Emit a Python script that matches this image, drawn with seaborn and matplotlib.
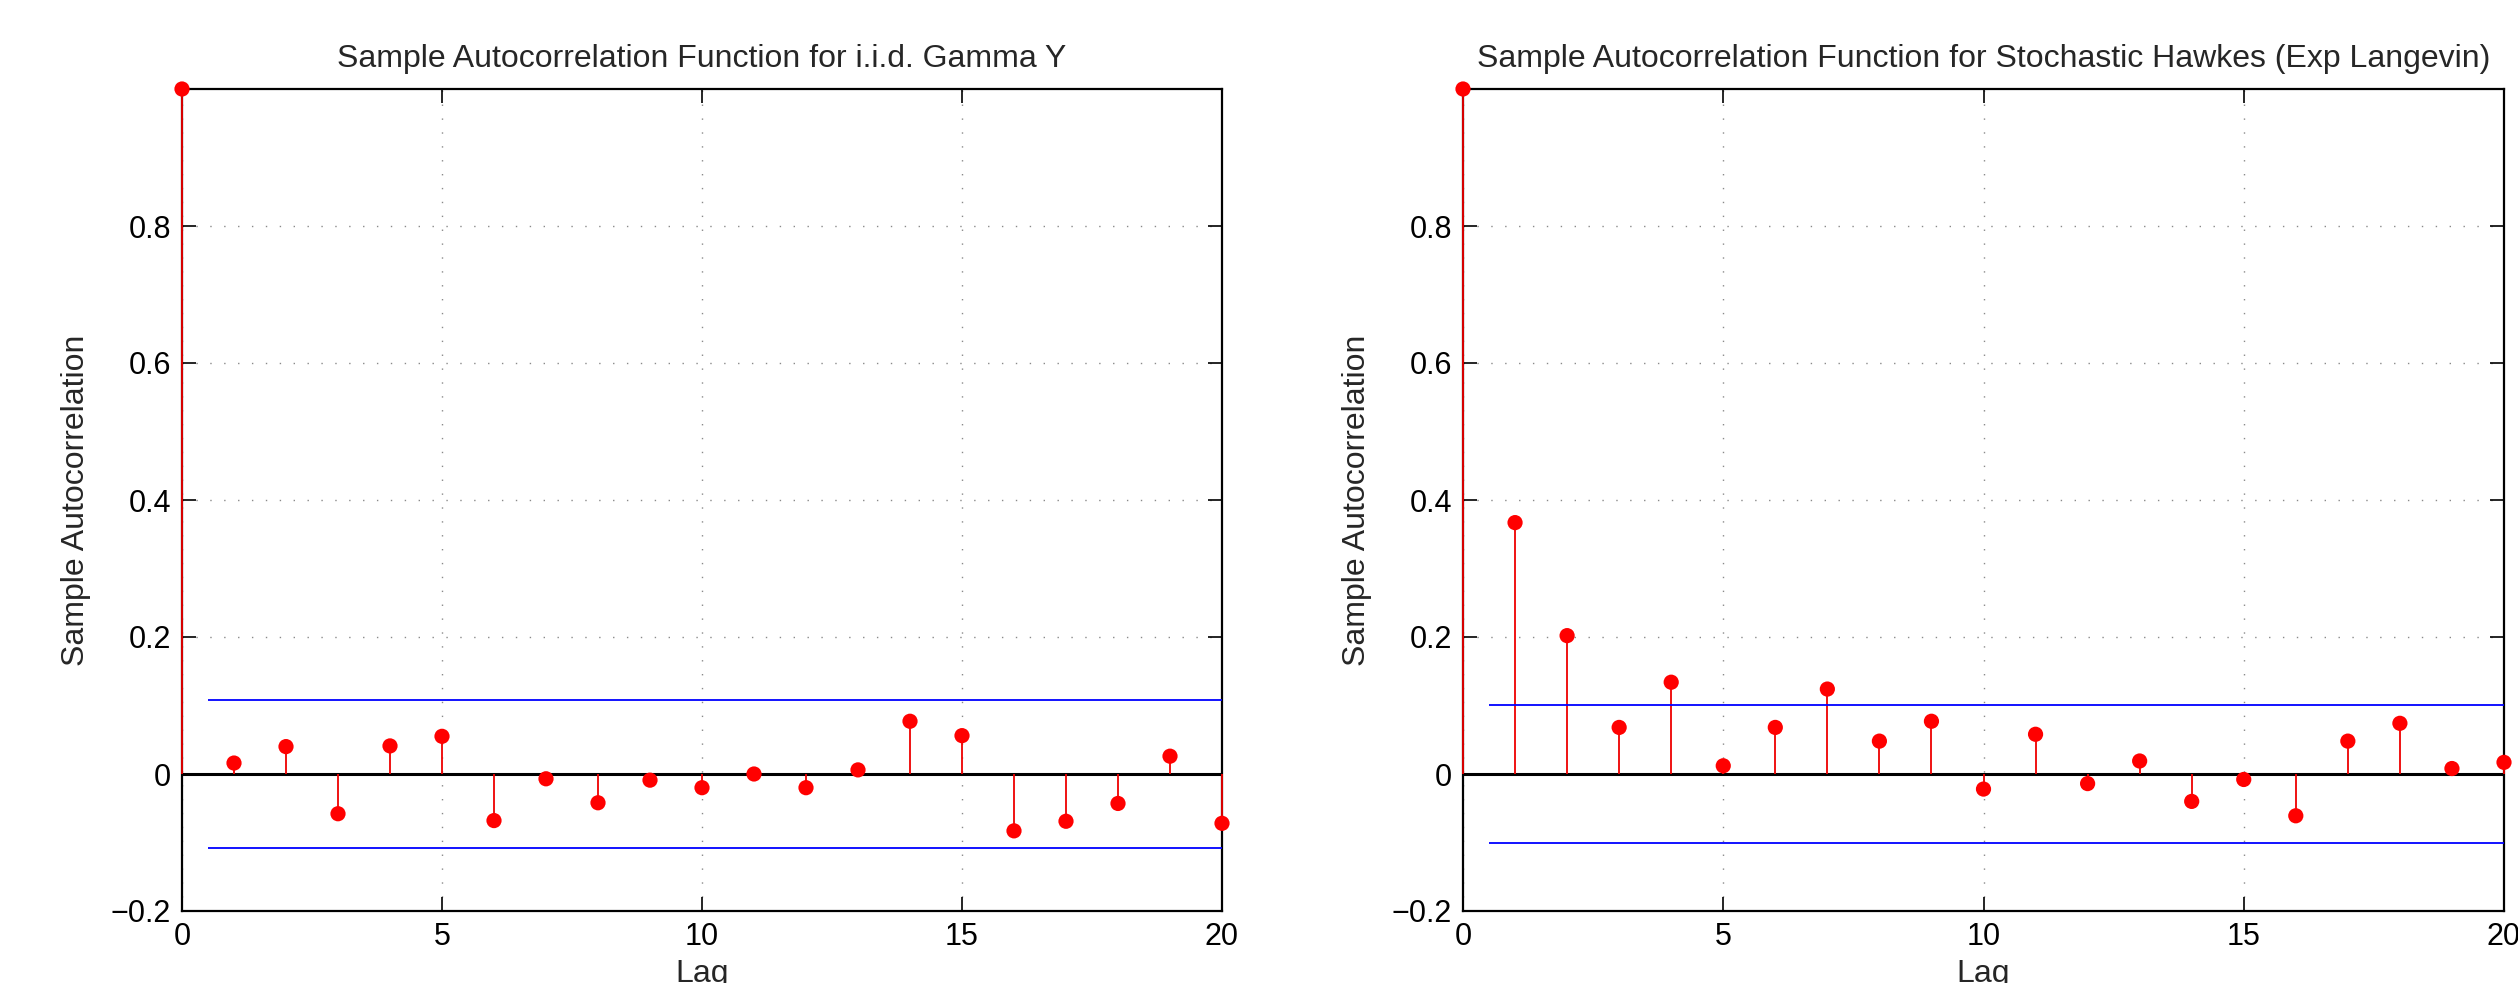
import numpy as np
import pandas as pd
import matplotlib
matplotlib.use("Agg")
import matplotlib.pyplot as plt
import seaborn as sns

# ---- data ----
lags = list(range(0, 21))
acf_gamma = [1.0, 0.016, 0.040, -0.058, 0.041, 0.055, -0.068, -0.007, -0.042, -0.009,
             -0.020, 0.000, -0.020, 0.006, 0.077, 0.056, -0.083, -0.069, -0.043, 0.026, -0.072]
acf_hawkes = [1.0, 0.367, 0.202, 0.068, 0.134, 0.012, 0.068, 0.124, 0.048, 0.077,
              -0.022, 0.058, -0.014, 0.019, -0.040, -0.008, -0.061, 0.048, 0.074, 0.008, 0.017]
bound_gamma = 0.108
bound_hawkes = 0.101
titles = ["Sample Autocorrelation Function for i.i.d. Gamma Y",
          "Sample Autocorrelation Function for Stochastic Hawkes (Exp Langevin)"]
xlabel = "Lag"
ylabel = "Sample Autocorrelation"
xticks = [0, 5, 10, 15, 20]
yticks = [-0.2, 0, 0.2, 0.4, 0.6, 0.8]
ytick_labels = ["\u22120.2", "0", "0.2", "0.4", "0.6", "0.8"]

sns.set_theme(style="white")
plt.rcParams['font.family'] = ['Liberation Sans', 'DejaVu Sans']
plt.rcParams['axes.unicode_minus'] = True

W, H = 2518, 983
fig = plt.figure(figsize=(W / 100, H / 100), dpi=100)
ax_bottom = (H - 911) / H
ax_height = (911 - 89) / H
axes = [fig.add_axes([182 / W, ax_bottom, 1040 / W, ax_height]),
        fig.add_axes([1463 / W, ax_bottom, 1041 / W, ax_height])]

for ax, vals, bnd, title in zip(axes, [acf_gamma, acf_hawkes], [bound_gamma, bound_hawkes], titles):
    df = pd.DataFrame({"lag": lags, "acf": vals})
    ax.set_xlim(0, 20)
    ax.set_ylim(-0.2, 1.0)
    ax.set_xticks(xticks)
    ax.set_yticks(yticks)
    ax.set_yticklabels(ytick_labels)
    ax.grid(True, color="#8a8a8a", linestyle=(0, (1, 9)), linewidth=1.0)
    ax.set_axisbelow(True)
    # zero line
    ax.axhline(0, color="black", linewidth=2.2, zorder=2)
    # stems
    ax.vlines(df["lag"], 0, df["acf"], color="#ee0000", linewidth=1.3, zorder=3, clip_on=False)
    # confidence bounds
    ax.hlines([bnd, -bnd], 0.5, 20, color="#0000ff", linewidth=1.3, zorder=3)
    sns.scatterplot(data=df, x="lag", y="acf", ax=ax, color="#ff0000", s=120,
                    edgecolor="none", zorder=4, clip_on=False)
    ax.set_title(title, fontsize=23, pad=16)
    ax.set_xlabel(xlabel, fontsize=23, va="top")
    ax.set_ylabel(ylabel, fontsize=23)
    ax.xaxis.set_label_coords(0.5, (911 - 959) / 822)
    ax.yaxis.set_label_coords((91 - 182) / 1040, 0.5)
    ax.tick_params(axis="both", direction="in", length=10, width=1.2, labelsize=22,
                   top=True, right=True, bottom=True, left=True, colors="black", pad=8)
    for sp in ax.spines.values():
        sp.set_visible(True)
        sp.set_color("black")
        sp.set_linewidth(1.6)
        sp.set_zorder(2.5)

fig.savefig("out.png", dpi=100, facecolor="white")
